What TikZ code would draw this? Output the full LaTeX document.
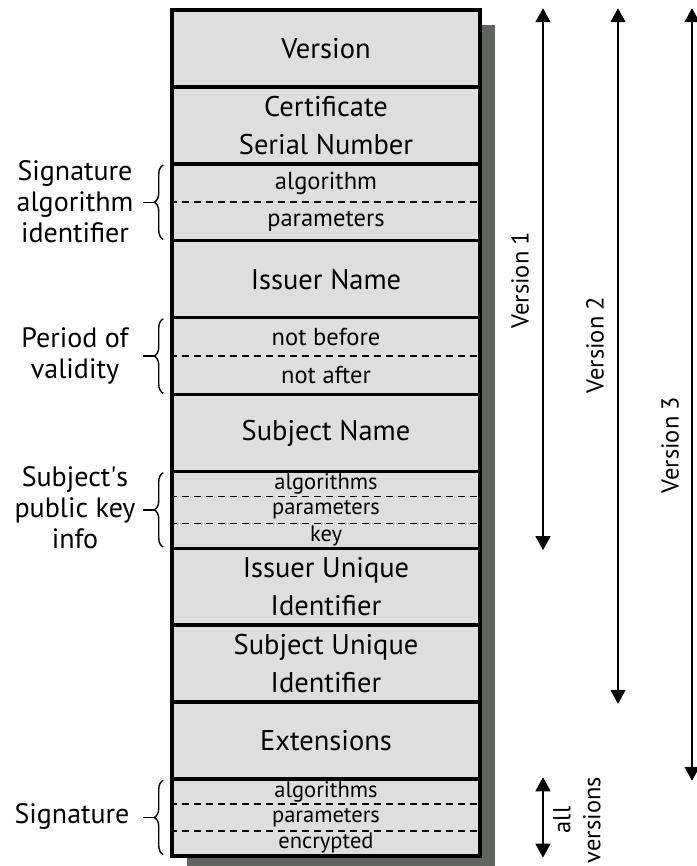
\documentclass[tikz,border=0pt]{standalone}
\usepackage{fontspec}
\setmainfont{PT Sans}
\usetikzlibrary{arrows.meta,decorations.pathreplacing,calc}

\definecolor{cellgray}{RGB}{221,222,221}
\definecolor{shadowgray}{RGB}{98,100,98}

\newcommand\fieldfont{\fontsize{28.5}{38}\selectfont}
\newcommand\partfont{\fontsize{24.5}{26}\selectfont}
\newcommand\tinypartfont{\fontsize{22.5}{24}\selectfont}
\newcommand\sidefont{\fontsize{28}{31}\selectfont}
\newcommand\verfont{\fontsize{24.5}{30}\selectfont}

\tikzset{
  field/.style={draw=black, line width=3.5pt, fill=cellgray,
    minimum width=308pt, minimum height=76.9pt, inner sep=0pt,
    align=center, font=\fieldfont},
  part/.style={inner sep=0pt, font=\partfont},
  tinypart/.style={inner sep=0pt, font=\tinypartfont},
  sep/.style={line width=1.5pt, dash pattern=on 7pt off 5pt},
  side/.style={align=center, inner sep=0pt, font=\sidefont},
  curly/.style={line width=1.4pt, decorate,
    decoration={brace, amplitude=9pt}},
  tick/.style={line width=1.4pt},
  span/.style={line width=1.6pt,
    {Triangle[width=15pt,length=14pt]}-{Triangle[width=15pt,length=14pt]}},
  verlabel/.style={rotate=90, align=center, inner sep=0pt, font=\verfont},
}

\begin{document}
\begin{tikzpicture}[x=1pt, y=-1pt]
  \useasboundingbox (0,0) rectangle (696,866);

  % drop shadow behind the certificate
  \fill[shadowgray] (187,25) rectangle (495,872);

  % certificate fields, top to bottom
  \node[field] (version)  at (326, 48.45)  {Version};
  \node[field] (serial)   at (326,125.35)  {Certificate\\Serial Number};
  \node[field] (sigalg)   at (326,202.25)  {};
  \node[field] (issuer)   at (326,279.15)  {Issuer Name};
  \node[field] (validity) at (326,356.05)  {};
  \node[field] (subject)  at (326,432.95)  {Subject Name};
  \node[field] (spki)     at (326,509.85)  {};
  \node[field] (issuid)   at (326,586.75)  {Issuer Unique\\Identifier};
  \node[field] (subjuid)  at (326,663.65)  {Subject Unique\\Identifier};
  \node[field] (ext)      at (326,740.55)  {Extensions};
  \node[field] (sig)      at (326,817.45)  {};

  % two-part fields
  \draw[sep] (sigalg.west) -- (sigalg.east);
  \node[part] (sigalg-a) at ($(sigalg.center)+(0,-19.2)$) {algorithm};
  \node[part] (sigalg-p) at ($(sigalg.center)+(0,19.2)$)  {parameters};

  \draw[sep] (validity.west) -- (validity.east);
  \node[part] (validity-b) at ($(validity.center)+(0,-19.2)$) {not before};
  \node[part] (validity-a) at ($(validity.center)+(0,19.2)$)  {not after};

  % three-part fields
  \foreach \f/\a/\b/\c in {spki/algorithms/parameters/key,
                           sig/algorithms/parameters/encrypted}{
    \draw[sep] ($(\f.north west)!1/3!(\f.south west)$) -- ($(\f.north east)!1/3!(\f.south east)$);
    \draw[sep] ($(\f.north west)!2/3!(\f.south west)$) -- ($(\f.north east)!2/3!(\f.south east)$);
    \node[tinypart] (\f-1) at ($(\f.center)+(0,-25.6)$) {\a};
    \node[tinypart] (\f-2) at (\f.center) {\b};
    \node[tinypart] (\f-3) at ($(\f.center)+(0,25.6)$) {\c};
  }

  % braces on the left
  \foreach \f in {sigalg, validity, spki, sig}{
    \coordinate (\f-bb) at ($(\f.south west)+(-7,-3)$);
    \coordinate (\f-bt) at ($(\f.north west)+(-7,3)$);
    \coordinate (\f-tip) at ($(\f.west)+(-16,0)$);
    \coordinate (\f-tick) at ($(\f.west)+(-27,0)$);
    \draw[curly] (\f-bb) -- (\f-bt);
    \draw[tick] (\f-tip) -- (\f-tick);
  }
  \node[side] (lab-sigalg)   at (75,202) {Signature\\algorithm\\identifier};
  \node[side] (lab-validity) at (75,356) {Period of\\validity};
  \node[side] (lab-spki)     at (75,508) {Subject\textquotesingle s\\public key\\info};
  \node[side] (lab-sig)      at (72,816) {Signature};

  % version ranges on the right
  \coordinate (v1top) at ($(version.north)+(217,0)$);
  \coordinate (v1bot) at ($(spki.south)+(217,0)$);
  \coordinate (v2top) at ($(version.north)+(292,0)$);
  \coordinate (v2bot) at ($(subjuid.south)+(292,0)$);
  \coordinate (v3top) at ($(version.north)+(366,0)$);
  \coordinate (v3bot) at ($(ext.south)+(366,0)$);
  \coordinate (vatop) at ($(sig.north)+(217,0)$);
  \coordinate (vabot) at ($(sig.south)+(217,0)$);

  \draw[span] (v1top) -- (v1bot);
  \draw[span] (v2top) -- (v2bot);
  \draw[span] (v3top) -- (v3bot);
  \draw[span] (vatop) -- (vabot);

  \node[verlabel] (ver1) at (520,280) {Version 1};
  \node[verlabel] (ver2) at (595,345) {Version 2};
  \node[verlabel] (ver3) at (670,445) {Version 3};
  \node[verlabel] (verall) at (577,820) {all\\versions};
\end{tikzpicture}
\end{document}
